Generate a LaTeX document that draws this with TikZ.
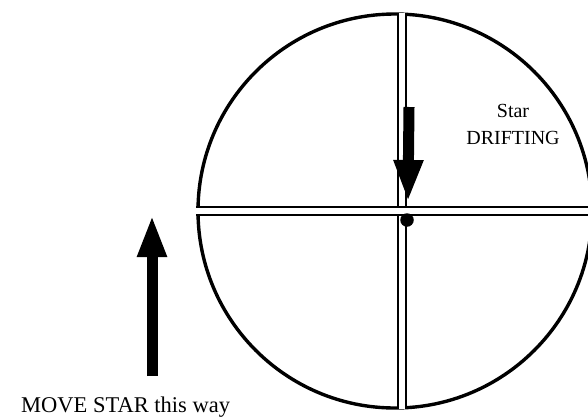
\documentclass[tikz,border=0pt]{standalone}
\usepackage{fontspec}
\setmainfont{Liberation Serif}
\usetikzlibrary{positioning}
\usetikzlibrary{arrows.meta}
\usetikzlibrary{calc}

\tikzset{
    wire/.style={double, double distance=6.5pt, line width=2.2pt},
    bigarrow/.style={line width=11pt, -{Triangle[width=27pt, length=42pt]}},
}

\begin{document}
\begin{tikzpicture}[x=1pt, y=-1pt]
    \useasboundingbox (0,0) rectangle (588,418);

    % eyepiece field
    \node[circle, draw, line width=3.4pt, minimum size=394pt, inner sep=0pt] (field) at (395,211) {};

    % crosshairs
    \coordinate (vtop) at (402,13);
    \coordinate (vbot) at (402,409);
    \draw[wire] (vtop) -- (vbot);
    \draw[wire] (field.west) -- (field.east);

    % star and its drift
    \node[circle, fill, minimum size=13.5pt, inner sep=0pt] (star) at (407,220) {};
    \coordinate (drift) at (409,107);
    \draw[bigarrow] (drift) -- (408,202);

    \node[align=center, font=\fontsize{20}{27}\selectfont] (label) at (513,124) {Star\\DRIFTING};

    % correction
    \coordinate (push) at (152,376);
    \draw[bigarrow] (push) -- (152,215);
    \node[anchor=base west, inner sep=0pt, font=\fontsize{22.5}{26}\selectfont] (move) at (21,412) {MOVE STAR this way};
\end{tikzpicture}
\end{document}
